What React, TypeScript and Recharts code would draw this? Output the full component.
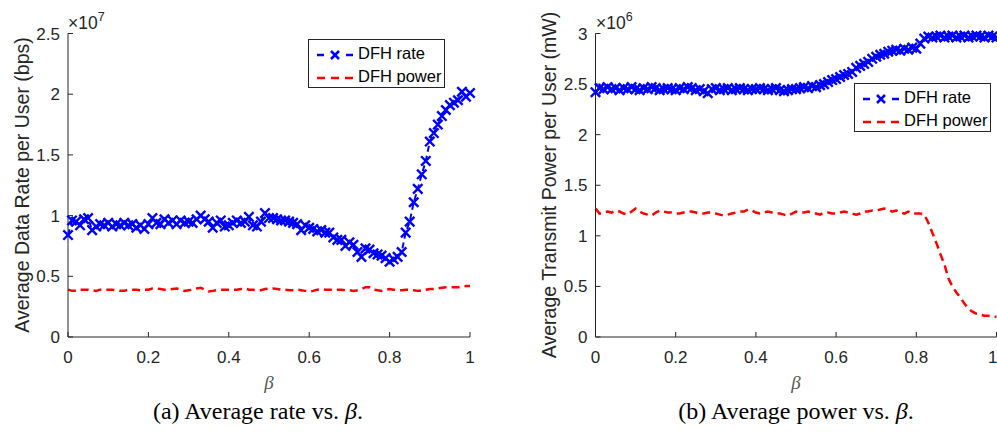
import React from "react";
import { Line, LineChart, XAxis, YAxis } from "recharts";

// beta grid 0..1 step 0.01
const beta = Array.from({ length: 101 }, (_, i) => Math.round(i) / 100);

// (a) average rate, units of 1e7 bps
const rateDfhRate = [
  0.84, 0.96, 0.95, 0.92, 0.97, 0.98, 0.88, 0.91, 0.93, 0.92,
  0.94, 0.91, 0.93, 0.92, 0.94, 0.92, 0.93, 0.9, 0.92, 0.89,
  0.93, 0.98, 0.94, 0.93, 0.97, 0.94, 0.96, 0.93, 0.96, 0.94,
  0.95, 0.94, 0.97, 1.0, 0.97, 0.95, 0.9, 0.94, 0.96, 0.91,
  0.92, 0.94, 0.96, 0.94, 0.95, 0.99, 0.92, 0.91, 0.95, 1.02,
  0.98, 0.98, 0.97, 0.96, 0.96, 0.95, 0.94, 0.93, 0.88, 0.92,
  0.9, 0.89, 0.87, 0.88, 0.86, 0.86, 0.82, 0.8, 0.8, 0.75,
  0.78, 0.76, 0.7, 0.66, 0.73, 0.72, 0.69, 0.68, 0.67, 0.65,
  0.62, 0.64, 0.66, 0.7, 0.86, 0.95, 1.11, 1.22, 1.34, 1.45,
  1.61, 1.68, 1.75, 1.82, 1.87, 1.91, 1.93, 1.95, 2.02, 1.98,
  2.01,
];
const rateDfhPower = [
  0.39, 0.38, 0.38, 0.39, 0.39, 0.39, 0.385, 0.38, 0.39, 0.39,
  0.39, 0.39, 0.385, 0.38, 0.38, 0.39, 0.39, 0.39, 0.385, 0.39,
  0.39, 0.4, 0.4, 0.395, 0.39, 0.39, 0.395, 0.4, 0.39, 0.38,
  0.385, 0.39, 0.4, 0.405, 0.39, 0.375, 0.38, 0.385, 0.39, 0.39,
  0.39, 0.39, 0.39, 0.395, 0.4, 0.39, 0.39, 0.385, 0.385, 0.395,
  0.4, 0.4, 0.395, 0.39, 0.39, 0.385, 0.385, 0.39, 0.385, 0.38,
  0.375, 0.38, 0.39, 0.395, 0.39, 0.39, 0.39, 0.39, 0.39, 0.385,
  0.385, 0.38, 0.385, 0.395, 0.41, 0.41, 0.39, 0.385, 0.38, 0.39,
  0.395, 0.39, 0.385, 0.385, 0.39, 0.39, 0.385, 0.38, 0.38, 0.39,
  0.395, 0.395, 0.4, 0.405, 0.41, 0.41, 0.41, 0.41, 0.415, 0.42,
  0.42,
];

// (b) average transmit power, units of 1e6 mW
const powerDfhRate = [
  2.42, 2.46, 2.45, 2.47, 2.45, 2.46, 2.44, 2.46, 2.45, 2.47,
  2.45, 2.44, 2.46, 2.45, 2.47, 2.46, 2.44, 2.45, 2.46, 2.45,
  2.44, 2.46, 2.45, 2.47, 2.46, 2.44, 2.45, 2.43, 2.41, 2.45,
  2.46, 2.44, 2.45, 2.46, 2.44, 2.45, 2.46, 2.45, 2.44, 2.45,
  2.45, 2.46, 2.45, 2.44, 2.45, 2.46, 2.44, 2.43, 2.44, 2.45,
  2.45, 2.46, 2.47, 2.46, 2.48, 2.47, 2.49, 2.5, 2.52, 2.54,
  2.55, 2.57, 2.59, 2.6, 2.62, 2.66, 2.68, 2.7, 2.72, 2.75,
  2.77, 2.79, 2.8, 2.82, 2.83, 2.84, 2.83, 2.85, 2.84, 2.86,
  2.85, 2.9, 2.95, 2.97, 2.96, 2.97, 2.98, 2.96, 2.97, 2.98,
  2.96, 2.97, 2.98, 2.96, 2.97, 2.98, 2.97, 2.96, 2.98, 2.97,
  2.96,
];
const powerDfhPower = [
  1.27, 1.22, 1.23, 1.24, 1.23, 1.25, 1.24, 1.22, 1.21, 1.24,
  1.27, 1.24, 1.22, 1.21, 1.2, 1.23, 1.25, 1.24, 1.23, 1.23,
  1.22, 1.22, 1.23, 1.24, 1.24, 1.23, 1.22, 1.22, 1.23, 1.23,
  1.22, 1.21, 1.2, 1.21, 1.22, 1.23, 1.24, 1.24, 1.26, 1.25,
  1.23, 1.22, 1.23, 1.24, 1.23, 1.22, 1.22, 1.21, 1.2, 1.22,
  1.24, 1.23, 1.23, 1.24, 1.23, 1.22, 1.21, 1.23, 1.23, 1.22,
  1.22, 1.23, 1.24, 1.23, 1.22, 1.21, 1.22, 1.24, 1.24, 1.25,
  1.25, 1.26, 1.27, 1.26, 1.24, 1.25, 1.23, 1.22, 1.24, 1.22,
  1.22, 1.22, 1.21, 1.13, 1.03, 0.93, 0.82, 0.72, 0.58, 0.5,
  0.44, 0.39, 0.33, 0.28, 0.25, 0.23, 0.22, 0.21, 0.21, 0.2,
  0.2,
];

const xTicks = [0, 0.2, 0.4, 0.6, 0.8, 1];
const rateTicks = [0, 0.5, 1, 1.5, 2, 2.5];
const powerTicks = [0, 0.5, 1, 1.5, 2, 2.5, 3];

const AX = "#262626";
const SANS = "'Liberation Sans', Arial, sans-serif";
const SERIF = "'Liberation Serif', 'Times New Roman', serif";
const BLUE = "#0000ff";
const RED = "#ff0000";

const tickStyle = { fill: AX, fontSize: 17, fontFamily: SANS };

const cross = (props: any) => {
  const { cx, cy, index } = props;
  if (cx == null || cy == null) return <g key={`n-${index}`} />;
  const s = 4.7;
  return (
    <path
      key={`x-${index}`}
      d={`M${cx - s},${cy - s}L${cx + s},${cy + s}M${cx - s},${cy + s}L${cx + s},${cy - s}`}
      stroke={BLUE}
      strokeWidth={2.4}
      fill="none"
    />
  );
};

function Panel({
  rows,
  yMax,
  yTicks,
  left,
  width,
  plotLeft,
  plotRight,
}: {
  rows: Array<{ beta: number; rate: number; power: number }>;
  yMax: number;
  yTicks: number[];
  left: number;
  width: number;
  plotLeft: number;
  plotRight: number;
}) {
  const H = 370;
  return (
    <div style={{ position: "absolute", left, top: 0 }}>
      <LineChart
        width={width}
        height={H}
        data={rows}
        margin={{ top: 33.5, right: left + width - plotRight, bottom: H - 337 - 30, left: plotLeft - left - 50 }}
      >
        <XAxis
          dataKey="beta"
          type="number"
          domain={[0, 1]}
          ticks={xTicks}
          height={30}
          stroke={AX}
          tickSize={-5}
          tickMargin={19}
          tick={tickStyle}
          tickFormatter={(v) => String(v)}
        />
        <XAxis
          xAxisId="top"
          orientation="top"
          type="number"
          domain={[0, 1]}
          ticks={xTicks}
          height={0}
          stroke={AX}
          tickSize={-5}
          tick={false}
        />
        <YAxis
          type="number"
          domain={[0, yMax]}
          ticks={yTicks}
          width={50}
          stroke={AX}
          tickSize={-5}
          tickMargin={13}
          tick={tickStyle}
          tickFormatter={(v) => String(v)}
        />
        <YAxis
          yAxisId="right"
          orientation="right"
          type="number"
          domain={[0, yMax]}
          ticks={yTicks}
          width={0}
          stroke={AX}
          tickSize={-5}
          tick={false}
        />
        <Line
          dataKey="power"
          stroke={RED}
          strokeWidth={2.5}
          strokeDasharray="8 5"
          dot={false}
          isAnimationActive={false}
        />
        <Line
          dataKey="rate"
          stroke={BLUE}
          strokeWidth={2}
          strokeDasharray="6 4"
          dot={cross}
          isAnimationActive={false}
        />
      </LineChart>
    </div>
  );
}

function Legend({ left, top }: { left: number; top: number }) {
  return (
    <div
      style={{
        position: "absolute",
        left,
        top,
        width: 137,
        height: 49,
        boxSizing: "border-box",
        border: `1px solid ${AX}`,
        background: "#fff",
        fontFamily: SANS,
        fontSize: 16.5,
        color: "#000",
      }}
    >
      <svg width={50} height={47} style={{ position: "absolute", left: 0, top: 0 }}>
        <line x1={8} x2={15} y1={15} y2={15} stroke={BLUE} strokeWidth={2.5} />
        <line x1={37} x2={44} y1={15} y2={15} stroke={BLUE} strokeWidth={2.5} />
        <path d="M22,11L30,19M22,19L30,11" stroke={BLUE} strokeWidth={2.5} />
        <line x1={8} x2={44} y1={38} y2={38} stroke={RED} strokeWidth={2.5} strokeDasharray="8 6" />
      </svg>
      <div style={{ position: "absolute", left: 49, top: 4, whiteSpace: "nowrap" }}>DFH rate</div>
      <div style={{ position: "absolute", left: 49, top: 27, whiteSpace: "nowrap" }}>DFH power</div>
    </div>
  );
}

function Exponent({ left, exp }: { left: number; exp: string }) {
  return (
    <div style={{ position: "absolute", left, top: 13, fontFamily: SANS, color: AX, whiteSpace: "nowrap", lineHeight: "20px" }}>
      <span style={{ fontSize: 17.5 }}>×10</span>
      <span style={{ fontSize: 12.5, position: "relative", top: -8 }}>{exp}</span>
    </div>
  );
}

function VLabel({ x, text }: { x: number; text: string }) {
  return (
    <div
      style={{
        position: "absolute",
        left: x,
        top: 185,
        transform: "translate(-50%, -50%) rotate(-90deg)",
        fontFamily: SANS,
        fontSize: 19.5,
        color: AX,
        whiteSpace: "nowrap",
      }}
    >
      {text}
    </div>
  );
}

function Centered({ x, y, children, style }: { x: number; y: number; children: React.ReactNode; style: React.CSSProperties }) {
  return (
    <div
      style={{
        position: "absolute",
        left: x,
        top: y,
        transform: "translate(-50%, -50%)",
        whiteSpace: "nowrap",
        ...style,
      }}
    >
      {children}
    </div>
  );
}

export default function App() {
  const rateRows = beta.map((b, i) => ({ beta: b, rate: rateDfhRate[i], power: rateDfhPower[i] }));
  const powerRows = beta.map((b, i) => ({ beta: b, rate: powerDfhRate[i], power: powerDfhPower[i] }));
  return (
    <div
      style={{
        position: "absolute",
        left: 0,
        top: 0,
        width: 997,
        height: 436,
        overflow: "hidden",
        background: "#fff",
      }}
    >
      <Panel rows={rateRows} yMax={2.5} yTicks={rateTicks} left={0} width={480} plotLeft={68} plotRight={470} />
      <Panel rows={powerRows} yMax={3} yTicks={powerTicks} left={540} width={457} plotLeft={595.5} plotRight={996.5} />

      <Exponent left={68} exp="7" />
      <Exponent left={596} exp="6" />

      <VLabel x={22} text="Average Data Rate per User (bps)" />
      <VLabel x={549} text="Average Transmit Power per User (mW)" />

      <Legend left={308} top={39} />
      <Legend left={854} top={83} />

      <Centered x={269} y={383} style={{ fontFamily: SERIF, fontStyle: "italic", fontSize: 19, color: "#555" }}>
        β
      </Centered>
      <Centered x={796} y={383} style={{ fontFamily: SERIF, fontStyle: "italic", fontSize: 19, color: "#555" }}>
        β
      </Centered>

      <Centered x={258} y={411} style={{ fontFamily: SERIF, fontSize: 24, color: "#000" }}>
        (a) Average rate vs. <i>β</i>.
      </Centered>
      <Centered x={796} y={411} style={{ fontFamily: SERIF, fontSize: 24, color: "#000" }}>
        (b) Average power vs. <i>β</i>.
      </Centered>
    </div>
  );
}
